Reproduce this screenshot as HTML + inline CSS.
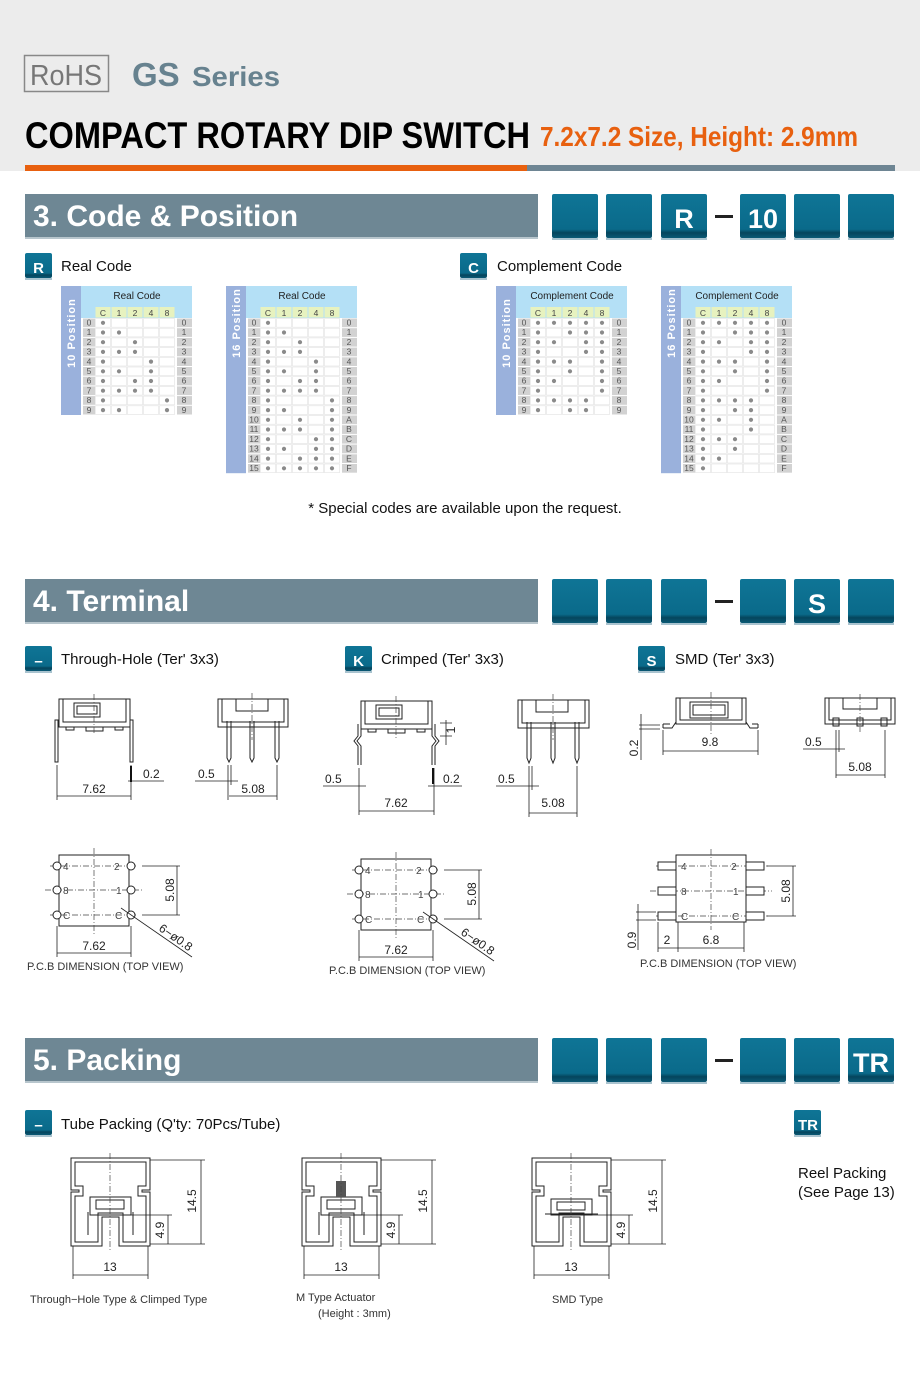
<!DOCTYPE html>
<html><head><meta charset="utf-8">
<style>
html,body{margin:0;padding:0;background:#fff;}
svg{display:block;font-family:"Liberation Sans",sans-serif;}
.dim{stroke:#222;stroke-width:0.8;fill:none}
.ln{stroke:#222;stroke-width:1;fill:none}
.cl{stroke:#444;stroke-width:0.7;stroke-dasharray:6 2 1 2;fill:none}
.t{font-size:12px;fill:#222}
.cap{font-size:11px;fill:#333}
.rn{font-size:8.5px;fill:#555;text-anchor:middle}
.ch{font-size:8.5px;fill:#444;text-anchor:middle}
.tt{font-size:10px;fill:#222;text-anchor:middle}
.sl{font-size:11px;fill:#fff;font-weight:bold;text-anchor:middle;letter-spacing:1px}
.bx{font-size:27px;fill:#fff;font-weight:bold;text-anchor:middle}
.sec{font-size:30px;fill:#fff;font-weight:bold}
.lab{font-size:15px;fill:#111}
.bd{font-size:15px;fill:#fff;font-weight:bold;text-anchor:middle}
</style></head><body>
<svg id="s" width="920" height="1388" viewBox="0 0 920 1388" xmlns="http://www.w3.org/2000/svg">
<defs>
<linearGradient id="bg" x1="0" y1="0" x2="0" y2="1">
<stop offset="0" stop-color="#0f7596"/><stop offset="0.8" stop-color="#0a6a8a"/><stop offset="0.88" stop-color="#05455d"/><stop offset="1" stop-color="#0a5a75"/>
</linearGradient>
</defs>
<!-- header -->
<rect x="0" y="0" width="920" height="171" fill="#ececec"/>
<rect x="24.5" y="55.5" width="84" height="36" fill="none" stroke="#888" stroke-width="1.5"/>
<text x="66" y="85" font-size="29" fill="#777" text-anchor="middle" textLength="72" lengthAdjust="spacingAndGlyphs">RoHS</text>
<text x="132" y="86" font-size="33" font-weight="bold" fill="#67828f">GS</text>
<text x="192" y="86" font-size="28" font-weight="bold" fill="#67828f" textLength="88" lengthAdjust="spacingAndGlyphs">Series</text>
<text x="25" y="148" font-size="37" font-weight="bold" fill="#000" textLength="505" lengthAdjust="spacingAndGlyphs">COMPACT ROTARY DIP SWITCH</text>
<text x="540" y="146" font-size="28" font-weight="bold" fill="#e8600f" textLength="318" lengthAdjust="spacingAndGlyphs">7.2x7.2 Size, Height: 2.9mm</text>
<rect x="25" y="165" width="502" height="6" fill="#e8600f"/>
<rect x="527" y="165" width="368" height="6" fill="#6e8593"/>

<g id="tables"></g>

<!-- section bars -->
<g id="secbars">
<rect x="25" y="194" width="513" height="43" fill="#6e8794"/><rect x="25" y="237" width="513" height="2" fill="#b8c6cd"/>
<text class="sec" x="33" y="226">3. Code &amp; Position</text>
<rect x="25" y="579" width="513" height="43" fill="#6e8794"/><rect x="25" y="622" width="513" height="2" fill="#b8c6cd"/>
<text class="sec" x="33" y="611">4. Terminal</text>
<rect x="25" y="1038" width="513" height="43" fill="#6e8794"/><rect x="25" y="1081" width="513" height="2" fill="#b8c6cd"/>
<text class="sec" x="33" y="1070">5. Packing</text>
</g>
<text class="bx" x="684" y="228">R</text>
<text class="bx" x="763" y="228">10</text>
<text class="bx" x="817" y="613">S</text>
<text class="bx" x="871" y="1072">TR</text>

<!-- small labels -->
<text class="bd" x="38.5" y="273">R</text><text class="lab" x="61" y="271">Real Code</text>
<text class="bd" x="473.5" y="273">C</text><text class="lab" x="497" y="271">Complement Code</text>
<text class="bd" x="38.5" y="666">–</text><text class="lab" x="61" y="664">Through-Hole (Ter' 3x3)</text>
<text class="bd" x="358.5" y="666">K</text><text class="lab" x="381" y="664">Crimped (Ter' 3x3)</text>
<text class="bd" x="651.5" y="666">S</text><text class="lab" x="675" y="664">SMD (Ter' 3x3)</text>
<text class="bd" x="38.5" y="1130">–</text><text class="lab" x="61" y="1129" font-size="16">Tube Packing (Q'ty: 70Pcs/Tube)</text>
<text class="bd" x="808" y="1130" font-size="14">TR</text>
<text class="lab" x="798" y="1178" font-size="16">Reel Packing</text>
<text class="lab" x="798" y="1197" font-size="16">(See Page 13)</text>
<text class="lab" x="465" y="513" text-anchor="middle">* Special codes are available upon the request.</text>

<!-- table texts -->
<g>
<text class="tt" x="137" y="299">Real Code</text>
<text class="tt" x="302" y="299">Real Code</text>
<text class="tt" x="572" y="299">Complement Code</text>
<text class="tt" x="737" y="299">Complement Code</text>
<text class="sl" transform="translate(75,333) rotate(-90)">10 Position</text>
<text class="sl" transform="translate(240,323) rotate(-90)">16 Position</text>
<text class="sl" transform="translate(510,333) rotate(-90)">10 Position</text>
<text class="sl" transform="translate(675,323) rotate(-90)">16 Position</text>
</g>

<!-- ===== Terminal drawings ===== -->
<g>
<rect class="ln" x="59" y="699" width="71" height="28"/>
<rect class="ln" x="74" y="703" width="26" height="14"/><rect class="ln" x="77" y="706" width="20" height="8"/>
<path class="ln" d="M63,699 V722 H126 V699 M66,727 V730 H74 V727 M86,727 V731 H103 V727 M115,727 V730 H123 V727"/>
<rect class="ln" x="55" y="720" width="3" height="42"/><rect class="ln" x="130" y="720" width="3" height="42"/>
<path class="cl" d="M94,694 V735"/>
<path class="dim" d="M57,765 V800 M131,765 V800 M57,796 H131 M128,781 H164"/>
<rect x="130" y="766" width="2" height="16" fill="#111"/>
<text class="t" x="94" y="793" text-anchor="middle">7.62</text><text class="t" x="143" y="778">0.2</text>
</g>
<g>
<rect class="ln" x="218" y="699" width="70" height="28"/>
<path class="ln" d="M222,699 V722 H284 V699 M236,699 V711 H268 V699"/>
<path class="ln" d="M227,721 V758 L229,762 L231,758 V721 M250,721 V758 L252,762 L254,758 V721 M275,721 V758 L277,762 L279,758 V721"/>
<path class="cl" d="M252,693 V740"/>
<path class="dim" d="M228,765 V800 M231,765 V785 M277,765 V800 M195,781 H238 M229,796 H277"/>
<text class="t" x="253" y="793" text-anchor="middle">5.08</text><text class="t" x="198" y="778">0.5</text>
</g>
<g>
<rect class="ln" x="361" y="701" width="71" height="28"/>
<rect class="ln" x="376" y="705" width="26" height="14"/><rect class="ln" x="379" y="708" width="20" height="8"/>
<path class="ln" d="M365,701 V724 H428 V701 M368,729 V732 H376 V729 M388,729 V733 H405 V729 M417,729 V732 H425 V729"/>
<path class="ln" d="M358,724 V736 L354,741 L358,746 V765 M361,724 V736 L357,741 L361,746 V765 M432,724 V736 L436,741 L432,746 V765 M435,724 V736 L439,741 L435,746 V765"/>
<path class="cl" d="M396,696 V740"/>
<path class="dim" d="M359,768 V815 M434,768 V815 M359,811 H434 M323,786 H366 M428,786 H462 M440,723 H452 M440,736 H452 M446,720 V745"/>
<rect x="432" y="768" width="2" height="16" fill="#111"/>
<text class="t" x="396" y="807" text-anchor="middle">7.62</text><text class="t" x="325" y="783">0.5</text><text class="t" x="443" y="783">0.2</text>
<text class="t" transform="translate(455,730) rotate(-90)" text-anchor="middle" font-size="10">1</text>
</g>
<g>
<rect class="ln" x="518" y="700" width="71" height="28"/>
<path class="ln" d="M522,700 V723 H585 V700 M536,700 V712 H568 V700"/>
<path class="ln" d="M527,722 V758 L529,763 L531,758 V722 M551,722 V758 L553,763 L555,758 V722 M575,722 V758 L577,763 L579,758 V722"/>
<path class="cl" d="M553,694 V740"/>
<path class="dim" d="M529,766 V817 M532,766 V790 M577,766 V817 M496,786 H539 M529,813 H577"/>
<text class="t" x="553" y="807" text-anchor="middle">5.08</text><text class="t" x="498" y="783">0.5</text>
</g>
<g>
<rect class="ln" x="676" y="698" width="70" height="26"/>
<rect class="ln" x="690" y="702" width="38" height="16"/><rect class="ln" x="693" y="705" width="32" height="10"/>
<path class="ln" d="M680,698 V720 H742 V698 M663,728 H672 L676,722 M758,728 H750 L746,722 M663,724 H670 M752,724 H758 M663,724 V728 M758,724 V728"/>
<path class="cl" d="M711,692 V734"/>
<path class="dim" d="M663,730 V755 M758,730 V755 M663,751 H758 M639,725 H660 M639,729 H660 M641,714 V760"/>
<text class="t" x="710" y="746" text-anchor="middle">9.8</text>
<text class="t" transform="translate(638,748) rotate(-90)" text-anchor="middle">0.2</text>
</g>
<g>
<rect class="ln" x="825" y="698" width="70" height="26"/>
<path class="ln" d="M829,698 V720 H891 V698 M843,698 V709 H877 V698"/>
<rect class="ln" x="833" y="718" width="6" height="8"/><rect class="ln" x="857" y="718" width="6" height="8"/><rect class="ln" x="881" y="718" width="6" height="8"/>
<path class="cl" d="M860,694 V732"/>
<path class="dim" d="M836,730 V778 M839,730 V752 M885,730 V778 M803,749 H845 M836,775 H885"/>
<text class="t" x="860" y="771" text-anchor="middle">5.08</text><text class="t" x="805" y="746">0.5</text>
</g>

<g>
<rect class="ln" x="59" y="855" width="70" height="71"/>
<path class="cl" d="M94,848 V935 M50,866 H138 M45,890 H142 M50,915 H138"/>
<g fill="#fff" stroke="#222" stroke-width="1">
<circle cx="57" cy="866" r="4"/><circle cx="131" cy="866" r="4"/><circle cx="57" cy="890" r="4"/><circle cx="131" cy="890" r="4"/><circle cx="57" cy="915" r="4"/><circle cx="131" cy="915" r="4"/></g>
<g font-size="10" fill="#444"><text x="63" y="870">4</text><text x="114" y="870">2</text><text x="63" y="894">8</text><text x="116" y="894">1</text><text x="63" y="919">C</text><text x="115" y="919">C</text></g>
<path class="dim" d="M142,866 H180 M142,915 H180 M177,866 V915 M57,926 V957 M131,926 V957 M57,953 H131 M121,908 L192,957"/>
<text class="t" x="94" y="950" text-anchor="middle">7.62</text>
<text class="t" transform="translate(174,890) rotate(-90)" text-anchor="middle">5.08</text>
<text class="t" transform="translate(158,930) rotate(35)">6−ø0.8</text>
<text class="cap" x="27" y="970" font-size="10.5">P.C.B DIMENSION (TOP VIEW)</text>
</g>
<g transform="translate(302,4)">
<rect class="ln" x="59" y="855" width="70" height="71"/>
<path class="cl" d="M94,848 V935 M50,866 H138 M45,890 H142 M50,915 H138"/>
<g fill="#fff" stroke="#222" stroke-width="1">
<circle cx="57" cy="866" r="4"/><circle cx="131" cy="866" r="4"/><circle cx="57" cy="890" r="4"/><circle cx="131" cy="890" r="4"/><circle cx="57" cy="915" r="4"/><circle cx="131" cy="915" r="4"/></g>
<g font-size="10" fill="#444"><text x="63" y="870">4</text><text x="114" y="870">2</text><text x="63" y="894">8</text><text x="116" y="894">1</text><text x="63" y="919">C</text><text x="115" y="919">C</text></g>
<path class="dim" d="M142,866 H180 M142,915 H180 M177,866 V915 M57,926 V957 M131,926 V957 M57,953 H131 M121,908 L192,957"/>
<text class="t" x="94" y="950" text-anchor="middle">7.62</text>
<text class="t" transform="translate(174,890) rotate(-90)" text-anchor="middle">5.08</text>
<text class="t" transform="translate(158,930) rotate(35)">6−ø0.8</text>
<text class="cap" x="27" y="970" font-size="10.5">P.C.B DIMENSION (TOP VIEW)</text>
</g>
<g>
<rect class="ln" x="676" y="855" width="70" height="67"/>
<path class="cl" d="M711,849 V930 M656,866 H768 M650,891 H772 M656,916 H768"/>
<g fill="#fff" stroke="#222" stroke-width="1">
<rect x="658" y="862" width="18" height="8"/><rect x="746" y="862" width="18" height="8"/><rect x="658" y="887" width="18" height="8"/><rect x="746" y="887" width="18" height="8"/><rect x="658" y="912" width="18" height="8"/><rect x="746" y="912" width="18" height="8"/></g>
<g font-size="10" fill="#444"><text x="681" y="870">4</text><text x="731" y="870">2</text><text x="681" y="895">8</text><text x="733" y="895">1</text><text x="681" y="920">C</text><text x="732" y="920">C</text></g>
<path class="dim" d="M767,866 H796 M767,916 H796 M793,866 V916 M636,912 H656 M636,920 H656 M638,904 V950 M658,922 V952 M678,922 V952 M744,922 V952 M658,948 H744"/>
<text class="t" x="667" y="944" text-anchor="middle">2</text><text class="t" x="711" y="944" text-anchor="middle">6.8</text>
<text class="t" transform="translate(790,891) rotate(-90)" text-anchor="middle">5.08</text>
<text class="t" transform="translate(636,940) rotate(-90)" text-anchor="middle">0.9</text>
<text class="cap" x="640" y="967" font-size="10.5">P.C.B DIMENSION (TOP VIEW)</text>
</g>

<!-- Tubes -->
<g>
<path d="M73,1160 H148 V1188 H140 V1194 H148 V1244 H121 V1215 H100 V1244 H73 V1194 H81 V1188 H73 Z" fill="none" stroke="#222" stroke-width="5"/>
<path d="M73,1160 H148 V1188 H140 V1194 H148 V1244 H121 V1215 H100 V1244 H73 V1194 H81 V1188 H73 Z" fill="none" stroke="#fff" stroke-width="3"/>
<rect class="ln" x="90" y="1197" width="41" height="18"/><rect class="ln" x="96" y="1200" width="28" height="9"/>
<path class="ln" d="M88,1212 V1235 M133,1212 V1235"/>
<path class="cl" d="M110,1153 V1252"/>
<path class="dim" d="M150,1160 H205 M120,1215 H172 M150,1244 H205 M201,1160 V1244 M168,1215 V1244 M73,1246 V1279 M148,1246 V1279 M73,1275 H148"/>
<text class="t" x="110" y="1271" text-anchor="middle" font-size="13">13</text>
<text class="t" transform="translate(196,1201) rotate(-90)" text-anchor="middle" font-size="13">14.5</text>
<text class="t" transform="translate(164,1230) rotate(-90)" text-anchor="middle" font-size="13">4.9</text>
</g>
<g transform="translate(231,0)">
<path d="M73,1160 H148 V1188 H140 V1194 H148 V1244 H121 V1215 H100 V1244 H73 V1194 H81 V1188 H73 Z" fill="none" stroke="#222" stroke-width="5"/>
<path d="M73,1160 H148 V1188 H140 V1194 H148 V1244 H121 V1215 H100 V1244 H73 V1194 H81 V1188 H73 Z" fill="none" stroke="#fff" stroke-width="3"/>
<rect class="ln" x="90" y="1197" width="41" height="18"/><rect class="ln" x="96" y="1200" width="28" height="9"/>
<rect x="105" y="1181" width="10" height="16" fill="#555"/>
<path class="ln" d="M88,1212 V1235 M133,1212 V1235"/>
<path class="cl" d="M110,1153 V1252"/>
<path class="dim" d="M150,1160 H205 M120,1215 H172 M150,1244 H205 M201,1160 V1244 M168,1215 V1244 M73,1246 V1279 M148,1246 V1279 M73,1275 H148"/>
<text class="t" x="110" y="1271" text-anchor="middle" font-size="13">13</text>
<text class="t" transform="translate(196,1201) rotate(-90)" text-anchor="middle" font-size="13">14.5</text>
<text class="t" transform="translate(164,1230) rotate(-90)" text-anchor="middle" font-size="13">4.9</text>
</g>
<g transform="translate(461,0)">
<path d="M73,1160 H148 V1188 H140 V1194 H148 V1244 H121 V1215 H100 V1244 H73 V1194 H81 V1188 H73 Z" fill="none" stroke="#222" stroke-width="5"/>
<path d="M73,1160 H148 V1188 H140 V1194 H148 V1244 H121 V1215 H100 V1244 H73 V1194 H81 V1188 H73 Z" fill="none" stroke="#fff" stroke-width="3"/>
<rect class="ln" x="90" y="1199" width="41" height="16"/><rect class="ln" x="96" y="1202" width="28" height="8"/>
<path class="ln" d="M84,1214 H137"/>
<path class="cl" d="M110,1153 V1252"/>
<path class="dim" d="M150,1160 H205 M120,1215 H172 M150,1244 H205 M201,1160 V1244 M168,1215 V1244 M73,1246 V1279 M148,1246 V1279 M73,1275 H148"/>
<text class="t" x="110" y="1271" text-anchor="middle" font-size="13">13</text>
<text class="t" transform="translate(196,1201) rotate(-90)" text-anchor="middle" font-size="13">14.5</text>
<text class="t" transform="translate(164,1230) rotate(-90)" text-anchor="middle" font-size="13">4.9</text>
</g>
<text class="cap" x="30" y="1303" font-size="12.5">Through−Hole Type &amp; Climped Type</text>
<text class="cap" x="296" y="1301" font-size="12.5">M Type Actuator</text>
<text class="cap" x="318" y="1317" font-size="12.5">(Height : 3mm)</text>
<text class="cap" x="552" y="1303" font-size="12.5">SMD Type</text>

<g class="ch">
<text x="103" y="316">C</text><text x="119" y="316">1</text><text x="135" y="316">2</text><text x="151" y="316">4</text><text x="167" y="316">8</text>
<text x="268" y="316">C</text><text x="284" y="316">1</text><text x="300" y="316">2</text><text x="316" y="316">4</text><text x="332" y="316">8</text>
<text x="538" y="316">C</text><text x="554" y="316">1</text><text x="570" y="316">2</text><text x="586" y="316">4</text><text x="602" y="316">8</text>
<text x="703" y="316">C</text><text x="719" y="316">1</text><text x="735" y="316">2</text><text x="751" y="316">4</text><text x="767" y="316">8</text>
</g>
<g class="rn">
<text y="325.5"><tspan x="89">0</tspan><tspan x="89" dy="9.7">1</tspan><tspan x="89" dy="9.7">2</tspan><tspan x="89" dy="9.7">3</tspan><tspan x="89" dy="9.7">4</tspan><tspan x="89" dy="9.7">5</tspan><tspan x="89" dy="9.7">6</tspan><tspan x="89" dy="9.7">7</tspan><tspan x="89" dy="9.7">8</tspan><tspan x="89" dy="9.7">9</tspan></text>
<text y="325.5"><tspan x="184">0</tspan><tspan x="184" dy="9.7">1</tspan><tspan x="184" dy="9.7">2</tspan><tspan x="184" dy="9.7">3</tspan><tspan x="184" dy="9.7">4</tspan><tspan x="184" dy="9.7">5</tspan><tspan x="184" dy="9.7">6</tspan><tspan x="184" dy="9.7">7</tspan><tspan x="184" dy="9.7">8</tspan><tspan x="184" dy="9.7">9</tspan></text>
<text y="325.5"><tspan x="524">0</tspan><tspan x="524" dy="9.7">1</tspan><tspan x="524" dy="9.7">2</tspan><tspan x="524" dy="9.7">3</tspan><tspan x="524" dy="9.7">4</tspan><tspan x="524" dy="9.7">5</tspan><tspan x="524" dy="9.7">6</tspan><tspan x="524" dy="9.7">7</tspan><tspan x="524" dy="9.7">8</tspan><tspan x="524" dy="9.7">9</tspan></text>
<text y="325.5"><tspan x="619">0</tspan><tspan x="619" dy="9.7">1</tspan><tspan x="619" dy="9.7">2</tspan><tspan x="619" dy="9.7">3</tspan><tspan x="619" dy="9.7">4</tspan><tspan x="619" dy="9.7">5</tspan><tspan x="619" dy="9.7">6</tspan><tspan x="619" dy="9.7">7</tspan><tspan x="619" dy="9.7">8</tspan><tspan x="619" dy="9.7">9</tspan></text>
<text y="325.5"><tspan x="254">0</tspan><tspan x="254" dy="9.7">1</tspan><tspan x="254" dy="9.7">2</tspan><tspan x="254" dy="9.7">3</tspan><tspan x="254" dy="9.7">4</tspan><tspan x="254" dy="9.7">5</tspan><tspan x="254" dy="9.7">6</tspan><tspan x="254" dy="9.7">7</tspan><tspan x="254" dy="9.7">8</tspan><tspan x="254" dy="9.7">9</tspan><tspan x="254" dy="9.7">10</tspan><tspan x="254" dy="9.7">11</tspan><tspan x="254" dy="9.7">12</tspan><tspan x="254" dy="9.7">13</tspan><tspan x="254" dy="9.7">14</tspan><tspan x="254" dy="9.7">15</tspan></text>
<text y="325.5"><tspan x="349">0</tspan><tspan x="349" dy="9.7">1</tspan><tspan x="349" dy="9.7">2</tspan><tspan x="349" dy="9.7">3</tspan><tspan x="349" dy="9.7">4</tspan><tspan x="349" dy="9.7">5</tspan><tspan x="349" dy="9.7">6</tspan><tspan x="349" dy="9.7">7</tspan><tspan x="349" dy="9.7">8</tspan><tspan x="349" dy="9.7">9</tspan><tspan x="349" dy="9.7">A</tspan><tspan x="349" dy="9.7">B</tspan><tspan x="349" dy="9.7">C</tspan><tspan x="349" dy="9.7">D</tspan><tspan x="349" dy="9.7">E</tspan><tspan x="349" dy="9.7">F</tspan></text>
<text y="325.5"><tspan x="689">0</tspan><tspan x="689" dy="9.7">1</tspan><tspan x="689" dy="9.7">2</tspan><tspan x="689" dy="9.7">3</tspan><tspan x="689" dy="9.7">4</tspan><tspan x="689" dy="9.7">5</tspan><tspan x="689" dy="9.7">6</tspan><tspan x="689" dy="9.7">7</tspan><tspan x="689" dy="9.7">8</tspan><tspan x="689" dy="9.7">9</tspan><tspan x="689" dy="9.7">10</tspan><tspan x="689" dy="9.7">11</tspan><tspan x="689" dy="9.7">12</tspan><tspan x="689" dy="9.7">13</tspan><tspan x="689" dy="9.7">14</tspan><tspan x="689" dy="9.7">15</tspan></text>
<text y="325.5"><tspan x="784">0</tspan><tspan x="784" dy="9.7">1</tspan><tspan x="784" dy="9.7">2</tspan><tspan x="784" dy="9.7">3</tspan><tspan x="784" dy="9.7">4</tspan><tspan x="784" dy="9.7">5</tspan><tspan x="784" dy="9.7">6</tspan><tspan x="784" dy="9.7">7</tspan><tspan x="784" dy="9.7">8</tspan><tspan x="784" dy="9.7">9</tspan><tspan x="784" dy="9.7">A</tspan><tspan x="784" dy="9.7">B</tspan><tspan x="784" dy="9.7">C</tspan><tspan x="784" dy="9.7">D</tspan><tspan x="784" dy="9.7">E</tspan><tspan x="784" dy="9.7">F</tspan></text>
</g>
</svg>
<script>
(function(){
var NS="http://www.w3.org/2000/svg";
var tg=document.getElementById("tables");
function T(n,a){var e=document.createElementNS(NS,n);for(var k in a)e.setAttribute(k,a[k]);tg.appendChild(e);return e;}
function table(ox,oy,n,comp){
 var h=32+n*9.7;
 T("rect",{x:ox,y:oy,width:20,height:h,fill:"#9ab1dc"});
 T("rect",{x:ox+20,y:oy,width:111,height:32,fill:"#b4e0f6"});
 for(var k=0;k<5;k++)T("rect",{x:ox+34.5+16*k,y:oy+21,width:15,height:10.5,fill:"#e7f2bf"});
 var bits=[0,1,2,4,8];
 for(var i=0;i<n;i++){
  var y=oy+32+9.7*i;
  T("rect",{x:ox+22,y:y+0.5,width:12,height:8.7,fill:"#d2d2d2"});
  T("rect",{x:ox+116,y:y+0.5,width:15,height:8.7,fill:"#d2d2d2"});
  for(var k=0;k<5;k++){
   T("rect",{x:ox+34.5+16*k,y:y+0.5,width:15,height:8.7,fill:"#fff",stroke:"#e2e2e2","stroke-width":0.6});
   var on=k==0?true:(comp?!(i&bits[k]):!!(i&bits[k]));
   if(on)T("circle",{cx:ox+42+16*k,cy:y+4.8,r:2.1,fill:"#8a8a8a"});
  }
 }
}
table(61,286,10,false);table(226,286,16,false);table(496,286,10,true);table(661,286,16,true);
function box(x,y,w,h){T("rect",{x:x,y:y,width:w,height:h,rx:2,fill:"url(#bg)"});T("rect",{x:x,y:y+h,width:w,height:2,fill:"#a9c3cf"});}
[552,606,661,740,794,848].forEach(function(x){box(x,194,46,44);box(x,579,46,44);box(x,1038,46,44);});
[194,579,1038].forEach(function(y){T("rect",{x:715,y:y+21,width:18,height:3,fill:"#222"});});
[[25,253],[460,253],[25,646],[345,646],[638,646],[25,1110],[794,1110]].forEach(function(p){box(p[0],p[1],27,25);});
})();
</script>
</body></html>
